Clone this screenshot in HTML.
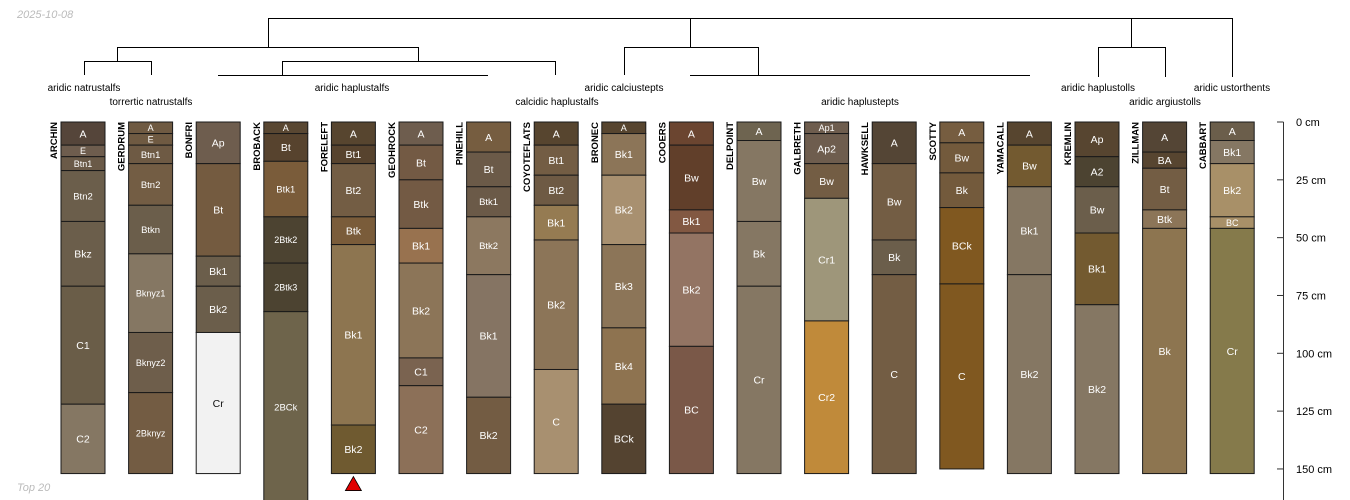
<!DOCTYPE html>
<html><head><meta charset="utf-8"><style>
html,body{margin:0;padding:0;background:#fff;}
svg{display:block;font-family:"Liberation Sans",sans-serif;}
</style></head><body>
<svg id="chart" width="1350" height="500" viewBox="0 0 1350 500" xmlns="http://www.w3.org/2000/svg">
<text x="17" y="18" font-size="11" font-style="italic" fill="#bbb">2025-10-08</text>
<text x="17" y="491" font-size="11" font-style="italic" fill="#bbb">Top 20</text>
<g id="dendro" stroke="#000" stroke-width="1" fill="none">
<path d="M268.5 47V18.5H1232.5V77"/>
<path d="M117.5 61V47.5H418.5V61"/>
<path d="M84.5 75V61.5H151.5V75"/>
<path d="M282.5 75V61.5H555.5V75"/>
<path d="M218 75.5H488"/>
<path d="M690.5 18V47"/>
<path d="M624.5 75V47.5H758.5V75"/>
<path d="M690 75.5H1030"/>
<path d="M1131.5 18V47"/>
<path d="M1098.5 77V47.5H1165.5V77"/>
</g>
<g font-size="10" fill="#000" text-anchor="middle">
<text x="84" y="91">aridic natrustalfs</text>
<text x="151" y="105">torrertic natrustalfs</text>
<text x="352" y="91">aridic haplustalfs</text>
<text x="557" y="105">calcidic haplustalfs</text>
<text x="624" y="91">aridic calciustepts</text>
<text x="860" y="105">aridic haplustepts</text>
<text x="1098" y="91">aridic haplustolls</text>
<text x="1165" y="105">aridic argiustolls</text>
<text x="1232" y="91">aridic ustorthents</text>
</g>
<g id="profiles"></g>
<g id="axis"></g>
</svg>
<script>
const profileNames = ["ARCHIN","GERDRUM","BONFRI","BROBACK","FORELEFT","GEOHROCK","PINEHILL","COYOTEFLATS","BRONEC","COOERS","DELPOINT","GALBRETH","HAWKSELL","SCOTTY","YAMACALL","KREMLIN","ZILLMAN","CABBART"];
const horizonNames = [
["A","E","Btn1","Btn2","Bkz","C1","C2"],
["A","E","Btn1","Btn2","Btkn","Bknyz1","Bknyz2","2Bknyz"],
["Ap","Bt","Bk1","Bk2","Cr"],
["A","Bt","Btk1","2Btk2","2Btk3","2BCk"],
["A","Bt1","Bt2","Btk","Bk1","Bk2"],
["A","Bt","Btk","Bk1","Bk2","C1","C2"],
["A","Bt","Btk1","Btk2","Bk1","Bk2"],
["A","Bt1","Bt2","Bk1","Bk2","C"],
["A","Bk1","Bk2","Bk3","Bk4","BCk"],
["A","Bw","Bk1","Bk2","BC"],
["A","Bw","Bk","Cr"],
["Ap1","Ap2","Bw","Cr1","Cr2"],
["A","Bw","Bk","C"],
["A","Bw","Bk","BCk","C"],
["A","Bw","Bk1","Bk2"],
["Ap","A2","Bw","Bk1","Bk2"],
["A","BA","Bt","Btk","Bk"],
["A","Bk1","Bk2","BC","Cr"]];
const horizonDepths = [
[0,10,15,21,43,71,122,152],
[0,5,10,18,36,57,91,117,152],
[0,18,58,71,91,152],
[0,5,17,41,61,82,175],
[0,10,18,41,53,131,152],
[0,10,25,46,61,102,114,152],
[0,13,28,41,66,119,152],
[0,10,23,36,51,107,152],
[0,5,23,53,89,122,152],
[0,10,38,48,97,152],
[0,8,43,71,152],
[0,5,18,33,86,152],
[0,18,51,66,152],
[0,9,22,37,70,150],
[0,10,28,66,152],
[0,15,28,48,79,152],
[0,13,20,38,46,152],
[0,8,18,41,46,152]];
const horizonColors = [
["#55453a","#6e5d4e","#6a5a48","#6b5e4b","#6b5e4b","#6a5d48","#857763"],
["#6f5a42","#6f5a42","#6e5a44","#735d44","#6b5e4b","#857763","#6e5e4b","#735c43"],
["#6e5d4e","#745b40","#6b5e4b","#6b5e4b","#f2f2f2"],
["#594732","#57432e","#7a5c3a","#4c4331","#4c4331","#6e644b"],
["#57452f","#57432e","#735d44","#7a5c3a","#8d7550","#6f5a30"],
["#6e5d4e","#735a44","#735a44","#98724f","#8c7558","#7a6350","#8c7058"],
["#765d40","#6b5a48","#6b5a48","#8c7860","#857463","#735c43"],
["#57452f","#735d44","#6e5a44","#957b52","#8c7558","#a89070"],
["#57452f","#8c7558","#a89070","#8c7558","#8e7350","#544330"],
["#6b4530","#613f2a","#825842","#937463","#7a5848"],
["#6e6450","#857763","#857763","#857763"],
["#6e5d4e","#6e5d4e","#735d44","#9e967a","#c08a3a"],
["#544535","#735d44","#6b5e4b","#735d44"],
["#765d40","#735a3c","#735a3c","#805820","#805820"],
["#57452f","#735a30","#857763","#857763"],
["#574530","#4c4331","#6b5e4b","#735a30","#857763"],
["#544535","#574530","#735d44","#8c7558","#8d7550"],
["#6b5e4b","#857763","#a89068","#a89068","#857a4b"]];
const axisTicks = [0,25,50,75,100,125,150];
const flaggedProfile = [4];

const NS="http://www.w3.org/2000/svg";
const top0=122, pxPerCm=2.313, x0=61, step=67.6, colW=44;
function yScale(d){return top0+d*pxPerCm;}
function xScale(i){return x0+i*step;}
function mk(tag,attrs,parent){const e=document.createElementNS(NS,tag);for(const k in attrs)e.setAttribute(k,attrs[k]);parent.appendChild(e);return e;}
function lum(c){const r=parseInt(c.substr(1,2),16),g=parseInt(c.substr(3,2),16),b=parseInt(c.substr(5,2),16);return 0.299*r+0.587*g+0.114*b;}
const pg=document.getElementById('profiles');
profileNames.forEach((name,i)=>{
  const g=mk('g',{},pg);
  
  
  const x=xScale(i);
  const d=horizonDepths[i];
  horizonNames[i].forEach((h,j)=>{
    const y1=yScale(d[j]), y2=Math.min(yScale(d[j+1]),502);
    const r=mk('rect',{x:x,y:y1,width:colW,height:y2-y1,fill:horizonColors[i][j],stroke:'#1a1a1a','stroke-width':1},g);
    
    
    const th=y2-y1;
    const fs= th<14?9:(h.length>4?9:(h.length>3?9.5:10.5));
    const t=mk('text',{x:x+colW/2,y:(y1+y2)/2+fs*0.36,'font-size':fs,'text-anchor':'middle',fill:lum(horizonColors[i][j])>150?'#111':'#fff'},g);
    t.textContent=h;
    
    
  });
  const nt=mk('text',{x:0,y:0,'font-size':9.5,'font-weight':'bold','text-anchor':'end',transform:'translate('+(x-4)+','+top0+') rotate(-90)'},g);
  nt.textContent=name;
  
  
  if(flaggedProfile.indexOf(i)>=0){
    const cx=x+colW/2, ty=yScale(d[d.length-1])+3;
    const tri=mk('polygon',{points:(cx-8)+','+(ty+14)+' '+(cx+8)+','+(ty+14)+' '+cx+','+ty,fill:'#e00000',stroke:'#000','stroke-width':0.8},g);
    
    
  }
});
const ax=document.getElementById('axis');
mk('line',{x1:1283.5,x2:1283.5,y1:top0,y2:500,stroke:'#333','stroke-width':1},ax);
axisTicks.forEach(v=>{
  const y=yScale(v);
  mk('line',{x1:1277,x2:1283.5,y1:y,y2:y,stroke:'#333','stroke-width':1},ax);
  const t=mk('text',{x:1296,y:y+4,'font-size':11,fill:'#000'},ax);
  t.textContent=v+' cm';
  
  
});
</script>
</body></html>
